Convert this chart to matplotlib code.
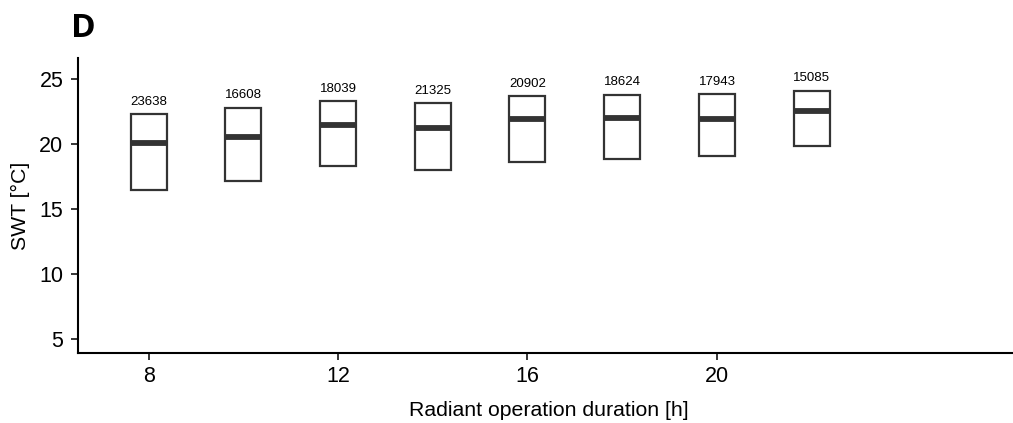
import matplotlib
matplotlib.use("Agg")
import matplotlib.pyplot as plt

# Radiant operation duration (h) and SWT box stats (deg C)
durations = [8, 10, 12, 14, 16, 18, 20, 22]
q1 = [16.42, 17.11, 18.26, 17.95, 18.62, 18.83, 19.03, 19.80]
medians = [20.05, 20.48, 21.43, 21.23, 21.92, 21.97, 21.94, 22.55]
q3 = [22.30, 22.78, 23.30, 23.12, 23.68, 23.78, 23.83, 24.08]
counts = [23638, 16608, 18039, 21325, 20902, 18624, 17943, 15085]

plt.rcParams["font.family"] = ["Liberation Sans", "DejaVu Sans"]

fig = plt.figure(figsize=(10.13, 4.23), dpi=100)
ax = fig.add_axes([0.077, 0.1655, 0.93, 0.6975])

stats = []
for lo, med, hi in zip(q1, medians, q3):
    stats.append({"q1": lo, "med": med, "q3": hi, "whislo": lo, "whishi": hi, "fliers": []})

ax.bxp(stats, positions=durations, widths=0.76, showcaps=False, patch_artist=True,
       boxprops=dict(facecolor="white", edgecolor="#333333", linewidth=1.6),
       medianprops=dict(color="#333333", linewidth=4.2, solid_capstyle="butt"),
       whiskerprops=dict(linewidth=0))

# sample counts above each box
for x, top, n in zip(durations, q3, counts):
    ax.annotate(str(n), (x, top), xytext=(0, 4.5), textcoords="offset points",
                ha="center", va="bottom", fontsize=9.5, color="black")

ax.set_xlim(6.51, 26.4)
ax.set_ylim(3.9, 26.6)
ax.set_xticks([8, 12, 16, 20])
ax.set_xticklabels(["8", "12", "16", "20"])
ax.set_yticks([5, 10, 15, 20, 25])

for side in ["top", "right"]:
    ax.spines[side].set_visible(False)
for side in ["left", "bottom"]:
    ax.spines[side].set_linewidth(1.5)
ax.tick_params(axis="both", labelsize=15.5, length=5, width=1.1, colors="black")
ax.tick_params(axis="x", pad=4.5)
ax.tick_params(axis="y", pad=5.5)

ax.set_xlabel("Radiant operation duration [h]", fontsize=15.3, labelpad=10)
ax.set_ylabel("SWT [°C]", fontsize=15.3, labelpad=7)

fig.text(0.070, 1 - 37 / 423, "D", fontsize=24, fontweight="bold", family="Open Sans",
         ha="left", va="baseline")

fig.savefig("out.png", dpi=100)
